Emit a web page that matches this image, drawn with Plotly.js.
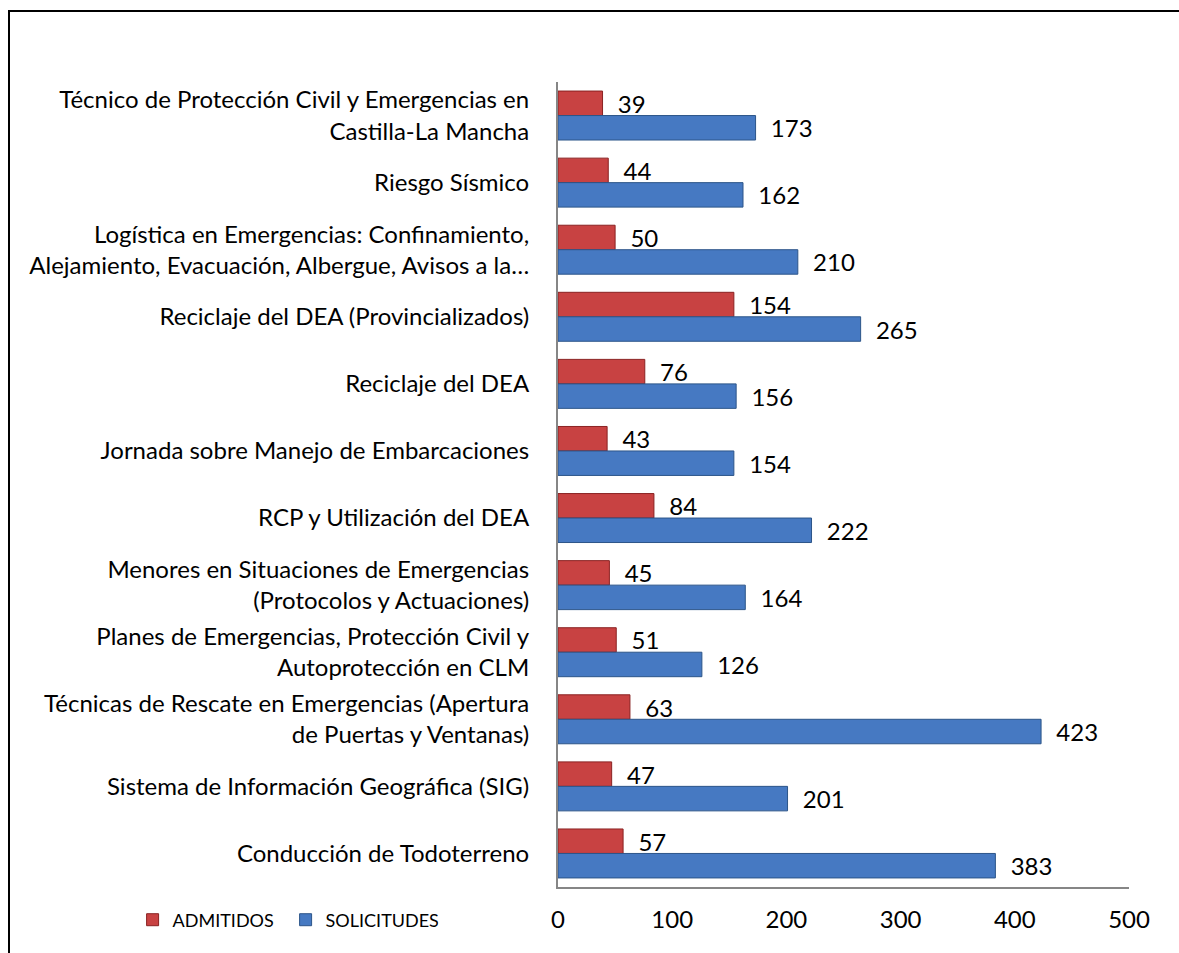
<!DOCTYPE html>
<html>
<head>
<meta charset="utf-8">
<script src="https://cdn.plot.ly/plotly-3.0.1.min.js"></script>
<style>
  html, body { margin: 0; padding: 0; overflow: hidden; background: #fff; }
  #chart { width: 1179px; height: 953px; }
  #frame { position: absolute; left: 8px; top: 10px; width: 1300px; height: 1100px;
           border: 2px solid #000; pointer-events: none; box-sizing: border-box; }
</style>
</head>
<body>
<div id="chart"></div>
<div id="frame"></div>
<script>
const categories = [
  "Técnico de Protección Civil y Emergencias en<br>Castilla-La Mancha",
  "Riesgo Sísmico",
  "Logística en Emergencias: Confinamiento,<br>Alejamiento, Evacuación, Albergue, Avisos a la…",
  "Reciclaje del DEA (Provincializados)",
  "Reciclaje del DEA",
  "Jornada sobre Manejo de Embarcaciones",
  "RCP y Utilización del DEA",
  "Menores en Situaciones de Emergencias<br>(Protocolos y Actuaciones)",
  "Planes de Emergencias, Protección Civil y<br>Autoprotección en CLM",
  "Técnicas de Rescate en Emergencias (Apertura<br>de Puertas y Ventanas)",
  "Sistema de Información Geográfica (SIG)",
  "Conducción de Todoterreno"
];
const admitidos   = [39, 44, 50, 154, 76, 43, 84, 45, 51, 63, 47, 57];
const solicitudes = [173, 162, 210, 265, 156, 154, 222, 164, 126, 423, 201, 383];
const xTicks = [0, 100, 200, 300, 400, 500];

const FONT = "Lato, 'Open Sans', sans-serif";

const traces = [
  {
    type: "bar", orientation: "h", name: "ADMITIDOS",
    x: admitidos, y: categories,
    marker: { color: "#C84242", line: { color: "#8A2222", width: 1 } },
    texttemplate: "\u00a0\u00a0%{x}", textposition: "outside",
    constraintext: "none", cliponaxis: false,
    textfont: { family: FONT, size: 24, color: "#000" }
  },
  {
    type: "bar", orientation: "h", name: "SOLICITUDES",
    x: solicitudes, y: categories,
    marker: { color: "#4679C2", line: { color: "#2C5589", width: 1 } },
    texttemplate: "\u00a0\u00a0%{x}", textposition: "outside",
    constraintext: "none", cliponaxis: false,
    textfont: { family: FONT, size: 24, color: "#000" }
  }
];

const layout = {
  width: 1179, height: 953,
  margin: { l: 558, r: 50, t: 82, b: 66 },
  paper_bgcolor: "#fff", plot_bgcolor: "#fff",
  font: { family: FONT, size: 24, color: "#000" },
  barmode: "group", bargap: 0.27, bargroupgap: 0,
  showlegend: true,
  legend: {
    orientation: "h", x: -0.745, xanchor: "left", y: -0.041, yanchor: "middle",
    font: { family: FONT, size: 18, color: "#000" },
    bgcolor: "rgba(0,0,0,0)", entrywidth: 108, entrywidthmode: "pixels"
  },
  xaxis: {
    range: [0, 500], tickvals: xTicks, ticktext: xTicks.map(String),
    showgrid: false, zeroline: false, showline: true, linecolor: "#868686", linewidth: 2,
    ticks: "", ticklabelstandoff: 10,
    tickfont: { family: FONT, size: 24, color: "#000" }
  },
  yaxis: {
    type: "category", autorange: "reversed",
    showgrid: false, zeroline: false, showline: true, linecolor: "#868686", linewidth: 2,
    ticks: "", ticklabelstandoff: 22,
    tickfont: { family: FONT, size: 24, color: "#000" }
  }
};

Plotly.newPlot("chart", traces, layout, { staticPlot: true, displayModeBar: false });
</script>
</body>
</html>
